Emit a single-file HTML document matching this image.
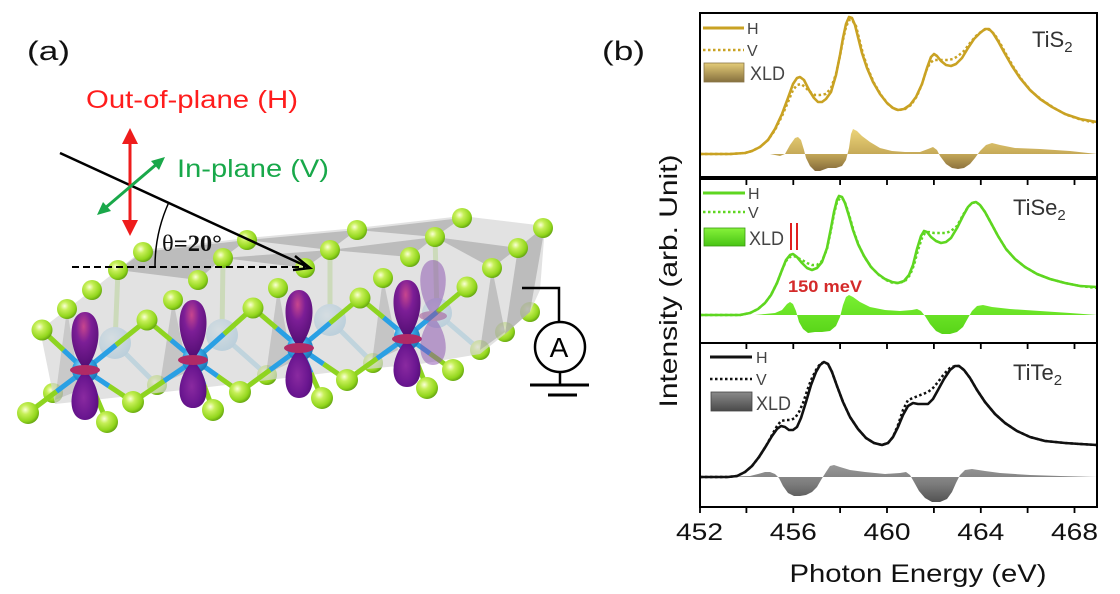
<!DOCTYPE html>
<html><head><meta charset="utf-8"><style>
html,body{margin:0;padding:0;background:#fff;}
svg{display:block;}
text{font-family:"Liberation Sans",sans-serif;}
</style></head><body>
<svg width="1120" height="594" viewBox="0 0 1120 594" xmlns="http://www.w3.org/2000/svg">
<defs>
<radialGradient id="gb" cx="0.38" cy="0.35" r="0.7">
<stop offset="0" stop-color="#fbffd8"/><stop offset="0.3" stop-color="#c6ef58"/><stop offset="0.75" stop-color="#92d61c"/><stop offset="1" stop-color="#5e9e10"/>
</radialGradient>
<radialGradient id="tb" cx="0.4" cy="0.35" r="0.7">
<stop offset="0" stop-color="#a8e4ff"/><stop offset="0.5" stop-color="#2ea2e2"/><stop offset="1" stop-color="#1a70b0"/>
</radialGradient>
<radialGradient id="lb" cx="0.4" cy="0.35" r="0.7">
<stop offset="0" stop-color="#d4eefc"/><stop offset="1" stop-color="#78bde6"/>
</radialGradient>
<radialGradient id="pu" cx="0.45" cy="0.25" r="0.8">
<stop offset="0" stop-color="#c8468e"/><stop offset="0.35" stop-color="#7c1e96"/><stop offset="1" stop-color="#4a0a6c"/>
</radialGradient>
<radialGradient id="pd" cx="0.45" cy="0.55" r="0.8">
<stop offset="0" stop-color="#8a2aa0"/><stop offset="0.5" stop-color="#6a1690"/><stop offset="1" stop-color="#420862"/>
</radialGradient>
<linearGradient id="gold" gradientUnits="userSpaceOnUse" x1="0" y1="128" x2="0" y2="173">
<stop offset="0" stop-color="#eed67a"/><stop offset="0.55" stop-color="#c8ac5a"/><stop offset="1" stop-color="#7e6438"/>
</linearGradient>
<linearGradient id="grn" gradientUnits="userSpaceOnUse" x1="0" y1="294" x2="0" y2="335">
<stop offset="0" stop-color="#7af032"/><stop offset="1" stop-color="#58d418"/>
</linearGradient>
<linearGradient id="gry" gradientUnits="userSpaceOnUse" x1="0" y1="464" x2="0" y2="504">
<stop offset="0" stop-color="#9a9a9a"/><stop offset="0.5" stop-color="#7c7c7c"/><stop offset="1" stop-color="#4e4e4e"/>
</linearGradient>
<linearGradient id="lgold" x1="0" y1="0" x2="0" y2="1"><stop offset="0" stop-color="#e4cc78"/><stop offset="1" stop-color="#86703e"/></linearGradient>
<linearGradient id="lgrn" x1="0" y1="0" x2="0" y2="1"><stop offset="0" stop-color="#86f23a"/><stop offset="1" stop-color="#48c414"/></linearGradient>
<linearGradient id="lgry" x1="0" y1="0" x2="0" y2="1"><stop offset="0" stop-color="#8a8a8a"/><stop offset="1" stop-color="#4a4a4a"/></linearGradient>
</defs>

<!-- ================= PANEL (a) ================= -->
<text x="27" y="60" font-size="27" fill="#111" textLength="43" lengthAdjust="spacingAndGlyphs">(a)</text>
<text x="86" y="108" font-size="25" fill="#ff1c1c" textLength="212" lengthAdjust="spacingAndGlyphs">Out-of-plane (H)</text>
<text x="177" y="177" font-size="25" fill="#18a84a" textLength="152" lengthAdjust="spacingAndGlyphs">In-plane (V)</text>

<!-- back spheres / back Ti -->
<g>
<line x1="115" y1="343" x2="157" y2="385" stroke="#8ccfef" stroke-width="5"/>
<line x1="222" y1="335" x2="267" y2="375" stroke="#8ccfef" stroke-width="5"/>
<line x1="330" y1="320" x2="373" y2="363" stroke="#8ccfef" stroke-width="5"/>
<line x1="437" y1="313" x2="480" y2="350" stroke="#8ccfef" stroke-width="5"/>
<line x1="115" y1="343" x2="118" y2="270" stroke="#b6e37a" stroke-width="5"/>
<line x1="222" y1="335" x2="223" y2="258" stroke="#b6e37a" stroke-width="5"/>
<line x1="330" y1="320" x2="330" y2="250" stroke="#b6e37a" stroke-width="5"/>
<line x1="437" y1="313" x2="435" y2="237" stroke="#b6e37a" stroke-width="5"/>
<circle cx="53" cy="393" r="10" fill="url(#gb)"/>
<circle cx="157" cy="385" r="10" fill="url(#gb)"/>
<circle cx="267" cy="375" r="10" fill="url(#gb)"/>
<circle cx="373" cy="363" r="10" fill="url(#gb)"/>
<circle cx="480" cy="350" r="10" fill="url(#gb)"/>
<circle cx="505" cy="332" r="10" fill="url(#gb)"/>
<circle cx="530" cy="312" r="10" fill="url(#gb)"/>
<circle cx="115" cy="343" r="16" fill="url(#lb)"/>
<circle cx="222" cy="335" r="16" fill="url(#lb)"/>
<circle cx="330" cy="320" r="16" fill="url(#lb)"/>
<circle cx="437" cy="313" r="15" fill="url(#lb)"/>
</g>

<!-- gray slab -->
<polygon points="40,330 92,290 143,250 247,238 357,228 462,216 545,226 540,290 530,312 505,334 480,354 420,364 335,372 235,384 130,396 55,404" fill="#d6d6d6" fill-opacity="0.7"/>
<g fill="#8e8e8e" fill-opacity="0.45">
<polygon points="118,270 223,258 198,280"/>
<polygon points="223,258 330,250 305,268"/>
<polygon points="330,250 435,237 410,257"/>
<polygon points="435,237 518,248 492,268"/>
<polygon points="143,252 247,240 223,258 118,270"/>
<polygon points="247,240 357,230 330,250"/>
<polygon points="357,230 462,218 435,237"/>
<polygon points="545,226 530,312 505,334 518,248"/>
<polygon points="173,300 160,384 188,372" fill-opacity="0.35"/>
<polygon points="278,288 266,374 292,362" fill-opacity="0.35"/>
<polygon points="383,278 372,362 398,350" fill-opacity="0.35"/>
<polygon points="492,268 480,350 505,332" fill-opacity="0.4"/>
<polygon points="67,309 55,400 80,390" fill-opacity="0.3"/>
</g>

<!-- top surface spheres -->
<g fill="url(#gb)">
<circle cx="143" cy="252" r="10"/><circle cx="247" cy="240" r="10"/><circle cx="357" cy="230" r="10"/><circle cx="462" cy="218" r="10"/><circle cx="543" cy="228" r="10"/>
<circle cx="118" cy="270" r="10"/><circle cx="223" cy="258" r="10"/><circle cx="330" cy="250" r="10"/><circle cx="435" cy="237" r="10"/><circle cx="518" cy="248" r="10"/>
<circle cx="92" cy="290" r="10"/><circle cx="198" cy="280" r="10"/><circle cx="305" cy="268" r="10"/><circle cx="410" cy="257" r="10"/><circle cx="492" cy="268" r="10"/>
<circle cx="67" cy="309" r="10"/><circle cx="173" cy="300" r="10"/><circle cx="278" cy="288" r="10"/><circle cx="383" cy="278" r="10"/>
</g>

<!-- bonds -->
<g stroke-width="5" stroke-linecap="butt">
<g stroke="#2aa0e4">
<line x1="85" y1="370" x2="63.5" y2="350"/><line x1="85" y1="370" x2="116" y2="345"/><line x1="85" y1="370" x2="56.5" y2="391.5"/><line x1="85" y1="370" x2="109" y2="386"/><line x1="85" y1="370" x2="96" y2="396"/>
<line x1="195" y1="360" x2="171" y2="340"/><line x1="195" y1="360" x2="224" y2="334"/><line x1="195" y1="360" x2="164" y2="381"/><line x1="195" y1="360" x2="217.5" y2="376"/><line x1="195" y1="360" x2="204" y2="385"/>
<line x1="300" y1="348" x2="276.5" y2="328"/><line x1="300" y1="348" x2="330" y2="323"/><line x1="300" y1="348" x2="270" y2="370"/><line x1="300" y1="348" x2="323.5" y2="364"/><line x1="300" y1="348" x2="311" y2="373"/>
<line x1="407" y1="337" x2="383.5" y2="317.5"/><line x1="407" y1="337" x2="437" y2="312"/><line x1="407" y1="337" x2="377" y2="358.5"/><line x1="407" y1="337" x2="430" y2="353.5"/><line x1="407" y1="337" x2="417" y2="362.5"/>
</g>
<g stroke="#8ed420">
<line x1="63.5" y1="350" x2="42" y2="330"/><line x1="116" y1="345" x2="147" y2="320"/><line x1="56.5" y1="391.5" x2="28" y2="413"/><line x1="109" y1="386" x2="133" y2="402"/><line x1="96" y1="396" x2="107" y2="422"/>
<line x1="171" y1="340" x2="147" y2="320"/><line x1="224" y1="334" x2="253" y2="308"/><line x1="164" y1="381" x2="133" y2="402"/><line x1="217.5" y1="376" x2="240" y2="392"/><line x1="204" y1="385" x2="213" y2="410"/>
<line x1="276.5" y1="328" x2="253" y2="308"/><line x1="330" y1="323" x2="360" y2="298"/><line x1="270" y1="370" x2="240" y2="392"/><line x1="323.5" y1="364" x2="347" y2="380"/><line x1="311" y1="373" x2="322" y2="398"/>
<line x1="383.5" y1="317.5" x2="360" y2="298"/><line x1="437" y1="312" x2="467" y2="287"/><line x1="377" y1="358.5" x2="347" y2="380"/><line x1="430" y1="353.5" x2="453" y2="370"/><line x1="417" y1="362.5" x2="427" y2="388"/>
</g>
</g>

<!-- front Ti -->
<circle cx="85" cy="370" r="13" fill="url(#tb)"/>
<circle cx="195" cy="360" r="13" fill="url(#tb)"/>
<circle cx="300" cy="348" r="13" fill="url(#tb)"/>
<circle cx="407" cy="337" r="13" fill="url(#tb)"/>

<!-- front spheres -->
<g fill="url(#gb)">
<circle cx="42" cy="330" r="10.5"/><circle cx="147" cy="320" r="10.5"/><circle cx="253" cy="308" r="10.5"/><circle cx="360" cy="298" r="10.5"/><circle cx="467" cy="287" r="10.5"/>
<circle cx="28" cy="413" r="11"/><circle cx="133" cy="402" r="11"/><circle cx="240" cy="392" r="11"/><circle cx="347" cy="380" r="11"/><circle cx="453" cy="370" r="11"/>
<circle cx="107" cy="422" r="11"/><circle cx="213" cy="410" r="11"/><circle cx="322" cy="398" r="11"/><circle cx="427" cy="388" r="11"/>
</g>

<!-- orbitals -->
<g>
<path d="M85,370 C66,348 68,312 85,312 C102,312 104,348 85,370 Z" fill="url(#pu)"/>
<path d="M85,370 C66,390 68,420 85,420 C102,420 104,390 85,370 Z" fill="url(#pd)"/>
<ellipse cx="85" cy="370" rx="15" ry="5" fill="#b02a66"/>
<path d="M193,360 C174,338 176,300 193,300 C210,300 212,338 193,360 Z" fill="url(#pu)"/>
<path d="M193,360 C174,380 176,408 193,408 C210,408 212,380 193,360 Z" fill="url(#pd)"/>
<ellipse cx="193" cy="360" rx="15" ry="5" fill="#b02a66"/>
<path d="M299,348 C280,326 282,290 299,290 C316,290 318,326 299,348 Z" fill="url(#pu)"/>
<path d="M299,348 C280,368 282,398 299,398 C316,398 318,368 299,348 Z" fill="url(#pd)"/>
<ellipse cx="299" cy="348" rx="15" ry="5" fill="#b02a66"/>
<path d="M407,339 C388,317 390,280 407,280 C424,280 426,317 407,339 Z" fill="url(#pu)"/>
<path d="M407,339 C388,359 390,387 407,387 C424,387 426,359 407,339 Z" fill="url(#pd)"/>
<ellipse cx="407" cy="339" rx="15" ry="5" fill="#b02a66"/>
<g opacity="0.5">
<path d="M433,316 C415,294 417,260 433,260 C449,260 451,294 433,316 Z" fill="#8a50b0"/>
<path d="M433,316 C415,336 417,365 433,365 C449,365 451,336 433,316 Z" fill="#8a50b0"/>
<ellipse cx="433" cy="316" rx="14" ry="5" fill="#a04a90"/>
</g>
</g>

<!-- beam geometry -->
<line x1="72" y1="267" x2="305" y2="267" stroke="#000" stroke-width="2" stroke-dasharray="7 4"/>
<line x1="60" y1="153" x2="309" y2="267.5" stroke="#000" stroke-width="2.5"/>
<polyline points="295,256 310,268 293,270" fill="none" stroke="#000" stroke-width="2.5"/>
<path d="M155,267 A155,155 0 0,1 169,202" fill="none" stroke="#000" stroke-width="1.5"/>
<text x="162" y="251" font-size="23" fill="#111" textLength="60" lengthAdjust="spacingAndGlyphs" style="font-family:'Liberation Serif',serif">θ<tspan font-weight="bold">=20°</tspan></text>

<!-- polarization arrows -->
<line x1="130" y1="138" x2="130" y2="226" stroke="#ee1c1c" stroke-width="3"/>
<polygon points="130,128 122,144 138,144" fill="#ee1c1c"/>
<polygon points="130,236 122,220 138,220" fill="#ee1c1c"/>
<line x1="104" y1="209" x2="158" y2="163" stroke="#1aa84a" stroke-width="3"/>
<polygon points="165,157 159,170 151,161" fill="#1aa84a"/>
<polygon points="97,215 111,211 103,202" fill="#1aa84a"/>

<!-- circuit -->
<polyline points="522,288 559,288 559,322" fill="none" stroke="#000" stroke-width="2.5"/>
<circle cx="560" cy="347" r="25" fill="#fff" stroke="#000" stroke-width="2.5"/>
<text x="559" y="357" font-size="28" text-anchor="middle" fill="#000">A</text>
<line x1="560" y1="372" x2="560" y2="385" stroke="#000" stroke-width="2.5"/>
<line x1="530" y1="385" x2="589" y2="385" stroke="#000" stroke-width="3"/>
<line x1="548" y1="395" x2="577" y2="395" stroke="#000" stroke-width="3"/>

<!-- ================= PANEL (b) ================= -->
<text x="602" y="60" font-size="27" fill="#111" textLength="43" lengthAdjust="spacingAndGlyphs">(b)</text>
<text transform="translate(677,281) rotate(-90)" x="0" y="0" font-size="25" text-anchor="middle" fill="#111" textLength="253" lengthAdjust="spacingAndGlyphs">Intensity (arb. Unit)</text>

<!-- TiS2 -->
<path d="M700,154 L770,154 L780,156 L785,154 L790,145 L795,138 L798,137 L801,140 L804,150 L806,158 L810,166 L815,171 L820,171 L828,168 L836,168 L842,166 L846,160 L849,148 L851,134 L853,129 L857,131 L862,136 L870,142 L880,148 L892,151 L905,152 L920,152 L928,149 L933,147 L937,150 L940,156 L946,164 L952,168 L958,169 L964,168 L970,164 L975,158 L980,151 L986,145 L992,143 L1000,145 L1015,148 L1040,149 L1070,151 L1097,154 Z" fill="url(#gold)"/>
<path d="M700,154 L730,154 L745,153 L752,151 L760,147 L768,140 L775,130 L782,116 L788,102 L793,90 L797,85 L801,84 L805,87 L810,92 L815,95 L820,95 L826,94 L831,88 L836,74 L840,56 L843,40 L846,27 L849,20 L852,20 L856,26 L859,38 L863,54 L868,69 L874,83 L881,95 L888,104 L894,109 L899,110 L905,109 L911,105 L917,96 L922,84 L926,71 L930,63 L934,60 L938,60 L943,60 L948,60 L953,59 L958,56 L964,51 L970,43 L976,36 L982,31 L986,29 L990,30 L995,35 L1000,43 L1006,54 L1014,68 L1022,80 L1032,92 L1042,100 L1054,108 L1067,115 L1082,120 L1097,123" fill="none" stroke="#c9a223" stroke-width="2.5" stroke-dasharray="2.5 2.5"/>
<path d="M700,154 L730,154 L745,153 L752,151 L760,147 L768,140 L775,129 L782,114 L788,98 L793,84 L797,78 L800,77 L804,80 L809,90 L814,98 L818,102 L822,102 L826,99 L831,92 L836,75 L840,55 L843,38 L846,24 L849,17 L852,18 L855,25 L858,37 L862,53 L867,68 L873,82 L880,94 L887,103 L893,108 L898,110 L904,109 L910,105 L916,97 L922,84 L927,68 L931,57 L934,54 L937,56 L941,61 L946,65 L951,66 L956,64 L962,58 L968,48 L974,39 L980,33 L985,29 L989,29 L993,33 L998,41 L1004,52 L1012,66 L1020,78 L1030,90 L1040,99 L1052,107 L1065,114 L1080,119 L1097,122" fill="none" stroke="#c9a223" stroke-width="2.6" stroke-linejoin="round"/>
<line x1="703" y1="28" x2="744" y2="28" stroke="#c9a223" stroke-width="3"/>
<line x1="703" y1="50" x2="744" y2="50" stroke="#c9a223" stroke-width="2.5" stroke-dasharray="2.5 2.5"/>
<rect x="704" y="63" width="40" height="19" fill="url(#lgold)" stroke="#8a7648" stroke-width="0.8"/>
<text x="747" y="34" font-size="16" fill="#444">H</text>
<text x="747" y="56" font-size="16" fill="#444">V</text>
<text x="750" y="80" font-size="19" fill="#444" textLength="35" lengthAdjust="spacingAndGlyphs">XLD</text>
<text x="1032" y="47" font-size="22" fill="#333">TiS<tspan font-size="15" dy="5">2</tspan></text>

<!-- TiSe2 -->
<path d="M700,315 L755,315 L765,314 L775,313 L782,310 L787,304 L790,302 L793,304 L796,311 L799,322 L803,329 L808,333 L815,332 L822,332 L830,331 L836,326 L840,317 L843,305 L846,297 L849,295 L853,297 L860,302 L870,307 L885,310 L900,311 L912,310 L917,309 L921,311 L925,316 L930,324 L936,331 L942,334 L950,334 L957,332 L963,327 L968,318 L972,311 L977,306 L983,305 L992,307 L1010,309 L1040,311 L1070,313 L1097,315 Z" fill="url(#grn)"/>
<path d="M700,315 L740,315 L750,313 L758,309 L765,303 L771,295 L777,283 L782,270 L786,261 L790,257 L794,256 L798,258 L802,260 L807,263 L812,265 L817,265 L822,261 L827,249 L831,230 L834,214 L837,202 L840,198 L843,199 L846,205 L850,218 L854,232 L859,246 L865,258 L872,268 L879,275 L886,280 L893,283 L899,283 L905,281 L910,275 L914,265 L918,250 L922,238 L925,233 L929,232 L934,233 L940,233 L946,233 L951,231 L957,226 L963,215 L968,207 L972,203 L976,202 L980,205 L985,212 L991,223 L998,236 L1006,249 L1015,259 L1025,267 L1037,274 L1050,279 L1065,283 L1080,286 L1097,288" fill="none" stroke="#5ed620" stroke-width="2.5" stroke-dasharray="2.5 2.5"/>
<path d="M700,315 L740,315 L750,313 L758,309 L765,303 L771,295 L777,283 L782,270 L786,260 L790,255 L793,254 L797,257 L802,263 L807,268 L812,270 L817,268 L822,262 L827,248 L831,228 L834,212 L837,200 L839,196 L842,197 L845,203 L849,216 L853,230 L858,244 L864,256 L871,267 L878,274 L885,279 L892,282 L898,283 L904,281 L909,275 L913,265 L917,249 L921,236 L924,231 L927,232 L931,237 L936,241 L941,243 L946,242 L951,238 L957,228 L963,216 L968,207 L972,203 L976,202 L980,205 L985,212 L991,223 L998,236 L1006,249 L1015,259 L1025,267 L1037,274 L1050,279 L1065,283 L1080,286 L1097,287" fill="none" stroke="#5ed620" stroke-width="2.6" stroke-linejoin="round"/>
<line x1="703" y1="193" x2="745" y2="193" stroke="#5ed620" stroke-width="3"/>
<line x1="703" y1="212" x2="745" y2="212" stroke="#5ed620" stroke-width="2.5" stroke-dasharray="2.5 2.5"/>
<rect x="704" y="228" width="41" height="18" fill="url(#lgrn)" stroke="#3a9a10" stroke-width="0.8"/>
<text x="748" y="199" font-size="16" fill="#444">H</text>
<text x="748" y="218" font-size="16" fill="#444">V</text>
<text x="749" y="245" font-size="19" fill="#444" textLength="35" lengthAdjust="spacingAndGlyphs">XLD</text>
<text x="1013" y="215" font-size="22" fill="#333">TiSe<tspan font-size="15" dy="5">2</tspan></text>
<line x1="791" y1="223" x2="791" y2="250" stroke="#e02020" stroke-width="2"/>
<line x1="797" y1="223" x2="797" y2="250" stroke="#e02020" stroke-width="2"/>
<text x="788" y="292" font-size="17" font-weight="bold" fill="#d42a2a" textLength="74" lengthAdjust="spacingAndGlyphs">150 meV</text>

<!-- TiTe2 -->
<path d="M700,477 L750,476 L758,474 L765,472 L770,472 L775,474 L779,478 L783,486 L788,493 L794,496 L800,496 L806,495 L812,492 L817,487 L821,480 L826,472 L830,466 L834,465 L840,467 L850,470 L865,472 L885,474 L900,473 L906,472 L910,475 L914,482 L919,491 L925,498 L932,502 L940,502 L947,499 L952,492 L956,483 L960,475 L965,470 L972,469 L985,471 L1000,473 L1030,475 L1060,476 L1097,477 Z" fill="url(#gry)"/>
<path d="M700,477 L728,477 L737,476 L745,472 L752,466 L759,457 L766,446 L772,435 L777,426 L781,421 L786,420 L791,420 L795,418 L799,412 L803,403 L807,391 L811,380 L816,370 L820,364 L824,362 L828,364 L832,372 L837,386 L843,402 L850,417 L858,429 L866,438 L874,443 L882,445 L888,443 L893,437 L898,425 L903,410 L908,400 L913,398 L918,396 L923,394 L928,392 L933,388 L938,382 L944,374 L950,368 L955,366 L959,366 L964,370 L970,378 L977,390 L985,402 L995,414 L1005,423 L1017,431 L1030,437 L1045,441 L1065,443 L1080,444 L1097,445" fill="none" stroke="#111" stroke-width="2.5" stroke-dasharray="2.5 2.5"/>
<path d="M700,477 L728,477 L737,476 L745,472 L752,466 L759,457 L766,446 L772,436 L777,429 L781,426 L785,427 L789,430 L793,430 L797,427 L801,418 L806,402 L811,385 L816,372 L820,365 L824,362 L828,364 L832,372 L837,386 L843,402 L850,417 L858,429 L866,438 L874,443 L882,445 L888,443 L893,437 L898,427 L903,415 L908,406 L913,403 L918,404 L923,404 L928,404 L933,399 L938,390 L944,379 L950,370 L955,366 L959,366 L964,370 L970,378 L977,390 L985,402 L995,414 L1005,423 L1017,431 L1030,437 L1045,441 L1065,443 L1080,444 L1097,445" fill="none" stroke="#111" stroke-width="2.6" stroke-linejoin="round"/>
<line x1="710" y1="357" x2="752" y2="357" stroke="#111" stroke-width="3"/>
<line x1="710" y1="379" x2="752" y2="379" stroke="#111" stroke-width="2.5" stroke-dasharray="2.5 2.5"/>
<rect x="711" y="392" width="41" height="19" fill="url(#lgry)" stroke="#444" stroke-width="0.8"/>
<text x="756" y="363" font-size="16" fill="#444">H</text>
<text x="756" y="385" font-size="16" fill="#444">V</text>
<text x="756" y="410" font-size="19" fill="#444" textLength="35" lengthAdjust="spacingAndGlyphs">XLD</text>
<text x="1013" y="380" font-size="22" fill="#333">TiTe<tspan font-size="15" dy="5">2</tspan></text>

<!-- frames -->
<g fill="none" stroke="#000" stroke-width="2">
<rect x="700" y="13" width="397" height="164"/>
<rect x="700" y="179" width="397" height="164"/>
<rect x="700" y="343" width="397" height="164"/>
</g>
<!-- ticks -->
<g stroke="#000" stroke-width="1.8">
<path d="M746.4,179 v6 M793.3,179 v6 M840.1,179 v6 M887,179 v6 M933.9,179 v6 M980.8,179 v6 M1027.6,179 v6 M1074.5,179 v6"/>
<path d="M746.4,343 v6 M793.3,343 v6 M840.1,343 v6 M887,343 v6 M933.9,343 v6 M980.8,343 v6 M1027.6,343 v6 M1074.5,343 v6"/>
<path d="M700,507 v6 M746.4,507 v6 M793.3,507 v6 M840.1,507 v6 M887,507 v6 M933.9,507 v6 M980.8,507 v6 M1027.6,507 v6 M1074.5,507 v6"/>
</g>
<g font-size="24" fill="#111" text-anchor="middle">
<text x="699.5" y="540" textLength="47" lengthAdjust="spacingAndGlyphs">452</text>
<text x="793.3" y="540" textLength="47" lengthAdjust="spacingAndGlyphs">456</text>
<text x="887" y="540" textLength="47" lengthAdjust="spacingAndGlyphs">460</text>
<text x="980.8" y="540" textLength="47" lengthAdjust="spacingAndGlyphs">464</text>
<text x="1074.5" y="540" textLength="47" lengthAdjust="spacingAndGlyphs">468</text>
</g>
<text x="918" y="582" font-size="25" fill="#111" text-anchor="middle" textLength="257" lengthAdjust="spacingAndGlyphs">Photon Energy (eV)</text>
</svg>
</body></html>
